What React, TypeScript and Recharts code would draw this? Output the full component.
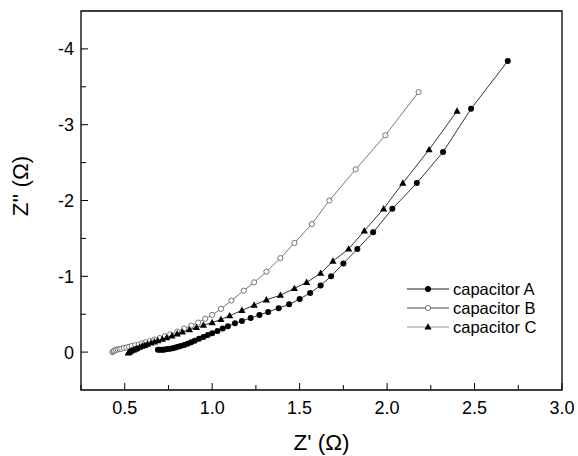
import React from 'react';
import { ScatterChart, Scatter, XAxis, YAxis, ReferenceArea, Label } from 'recharts';

// Nyquist data: Z' (ohm) and Z'' (ohm)
const capAZre = [0.69, 0.70, 0.71, 0.72, 0.73, 0.745, 0.76, 0.775, 0.79, 0.805, 0.82, 0.84, 0.86, 0.88, 0.90, 0.925, 0.95, 0.975, 1.00, 1.03, 1.06, 1.09, 1.13, 1.17, 1.22, 1.27, 1.32, 1.38, 1.44, 1.50, 1.56, 1.62, 1.68, 1.75, 1.83, 1.92, 2.03, 2.17, 2.32, 2.48, 2.69];
const capAZim = [-0.03, -0.03, -0.03, -0.03, -0.035, -0.04, -0.045, -0.05, -0.06, -0.07, -0.08, -0.095, -0.11, -0.13, -0.15, -0.175, -0.20, -0.225, -0.25, -0.28, -0.31, -0.34, -0.38, -0.41, -0.45, -0.49, -0.53, -0.58, -0.63, -0.70, -0.78, -0.88, -1.00, -1.17, -1.36, -1.58, -1.89, -2.23, -2.64, -3.21, -3.84];

const capBZre = [0.43, 0.435, 0.44, 0.45, 0.46, 0.47, 0.48, 0.495, 0.51, 0.525, 0.54, 0.56, 0.58, 0.60, 0.62, 0.645, 0.67, 0.70, 0.73, 0.76, 0.80, 0.84, 0.88, 0.92, 0.96, 1.00, 1.05, 1.11, 1.18, 1.24, 1.31, 1.39, 1.47, 1.57, 1.67, 1.82, 1.99, 2.18];
const capBZim = [0.0, -0.01, -0.02, -0.03, -0.035, -0.04, -0.045, -0.055, -0.06, -0.07, -0.08, -0.09, -0.10, -0.115, -0.13, -0.145, -0.165, -0.185, -0.21, -0.235, -0.27, -0.31, -0.35, -0.39, -0.44, -0.49, -0.57, -0.68, -0.81, -0.92, -1.06, -1.24, -1.44, -1.69, -2.00, -2.41, -2.86, -3.43];

const capCZre = [0.52, 0.525, 0.53, 0.54, 0.55, 0.56, 0.57, 0.585, 0.60, 0.615, 0.63, 0.65, 0.67, 0.69, 0.715, 0.74, 0.77, 0.80, 0.83, 0.87, 0.91, 0.95, 1.00, 1.05, 1.10, 1.17, 1.24, 1.31, 1.39, 1.47, 1.54, 1.62, 1.69, 1.78, 1.87, 1.98, 2.09, 2.24, 2.40];
const capCZim = [0.01, 0.0, -0.01, -0.02, -0.03, -0.04, -0.05, -0.065, -0.08, -0.09, -0.105, -0.12, -0.135, -0.15, -0.17, -0.19, -0.215, -0.24, -0.265, -0.295, -0.325, -0.355, -0.39, -0.43, -0.48, -0.55, -0.62, -0.69, -0.75, -0.84, -0.92, -1.04, -1.20, -1.36, -1.60, -1.89, -2.23, -2.67, -3.18];

const xTicks = [0.25, 0.5, 0.75, 1.0, 1.25, 1.5, 1.75, 2.0, 2.25, 2.5, 2.75, 3.0];
const xLabelTicks = [0.5, 1.0, 1.5, 2.0, 2.5, 3.0];
const yTicks = [-4, -3.5, -3, -2.5, -2, -1.5, -1, -0.5, 0];
const yLabelTicks = [-4, -3, -2, -1, 0];

const seriesNames = ['capacitor A', 'capacitor B', 'capacitor C'];

const toPoints = (xs: number[], ys: number[]) => xs.map((x, i) => ({ x, y: ys[i] }));

const dataA = toPoints(capAZre, capAZim);
const dataB = toPoints(capBZre, capBZim);
const dataC = toPoints(capCZre, capCZim);

const FONT = '"Liberation Sans", Arial, sans-serif';

const FilledDot = (props: any) => <circle cx={props.cx} cy={props.cy} r={3} fill="#000" />;
const OpenDot = (props: any) => (
  <circle cx={props.cx} cy={props.cy} r={2.6} fill="#fff" stroke="#555" strokeWidth={0.8} />
);
const Triangle = (props: any) => {
  const { cx, cy } = props;
  return <polygon points={`${cx},${cy - 3.8} ${cx - 3.6},${cy + 2.6} ${cx + 3.6},${cy + 2.6}`} fill="#000" />;
};

const XTick = (props: any) => {
  const { x, y, payload } = props;
  const major = xLabelTicks.includes(payload.value);
  return (
    <g>
      <line x1={x} x2={x} y1={y} y2={y - (major ? 7 : 5)} stroke="#000" strokeWidth={1} />
      {major && (
        <text x={x} y={y + 24} textAnchor="middle" fontSize={18} fontFamily={FONT} fill="#000">
          {payload.value.toFixed(1)}
        </text>
      )}
    </g>
  );
};

const YTick = (props: any) => {
  const { x, y, payload } = props;
  const major = yLabelTicks.includes(payload.value);
  return (
    <g>
      <line x1={x} x2={x + (major ? 7 : 5)} y1={y} y2={y} stroke="#000" strokeWidth={1} />
      {major && (
        <text x={x - 7} y={y} dy="0.36em" textAnchor="end" fontSize={18} fontFamily={FONT} fill="#000">
          {String(payload.value)}
        </text>
      )}
    </g>
  );
};

// legend drawn as an overlay so it does not take room from the plot
const LegendBox = () => {
  const markers = [
    <circle cx={21} cy={0} r={3} fill="#000" />,
    <circle cx={21} cy={0} r={2.6} fill="#fff" stroke="#555" strokeWidth={0.8} />,
    <polygon points="21,-3.8 17.4,2.6 24.6,2.6" fill="#000" />,
  ];
  const lineColors = ['#000', '#333', '#888'];
  return (
    <svg width={160} height={64} style={{ position: 'absolute', left: 407, top: 277 }}>
      {seriesNames.map((name, i) => (
        <g key={name} transform={`translate(0, ${12 + i * 19})`}>
          <line x1={0} x2={42} y1={0} y2={0} stroke={lineColors[i]} strokeWidth={0.9} />
          {markers[i]}
          <text x={46} y={0} dy="0.36em" fontSize={16.5} fontFamily={FONT} fill="#000">
            {name}
          </text>
        </g>
      ))}
    </svg>
  );
};

export default function App() {
  return (
    <div style={{ position: 'absolute', left: 0, top: 0, width: 578, height: 456, background: '#fff' }}>
      <ScatterChart width={578} height={456} margin={{ top: 11, right: 16, bottom: 0, left: 0 }}>
        <XAxis
          type="number"
          dataKey="x"
          domain={[0.25, 3.0]}
          ticks={xTicks}
          allowDataOverflow
          axisLine={false}
          tickLine={false}
          tickSize={0}
          tickMargin={0}
          tick={<XTick />}
          height={66}
          interval={0}
        >
          <Label
            content={(p: any) => (
              <text
                x={p.viewBox.x + p.viewBox.width / 2}
                y={p.viewBox.y + 60}
                textAnchor="middle"
                fontSize={22.5}
                fontFamily={FONT}
                fill="#000"
              >
                Z' (Ω)
              </text>
            )}
          />
        </XAxis>
        <YAxis
          type="number"
          dataKey="y"
          domain={[-4.5, 0.5]}
          reversed
          ticks={yTicks}
          allowDataOverflow
          axisLine={false}
          tickLine={false}
          tickSize={0}
          tickMargin={0}
          tick={<YTick />}
          width={81}
          interval={0}
        >
          <Label
            content={() => (
              <text
                x={20}
                y={186}
                transform="rotate(-90 20 186)"
                textAnchor="middle"
                dominantBaseline="central"
                fontSize={22.5}
                fontFamily={FONT}
                fill="#000"
              >
                Z'' (Ω)
              </text>
            )}
          />
        </YAxis>
        <ReferenceArea x1={0.25} x2={3.0} y1={-4.5} y2={0.5} fill="none" stroke="#000" strokeWidth={1.3} />
        <Scatter
          name={seriesNames[0]}
          data={dataA}
          line={{ stroke: '#000', strokeWidth: 0.8 }}
          shape={<FilledDot />}
          isAnimationActive={false}
        />
        <Scatter
          name={seriesNames[1]}
          data={dataB}
          line={{ stroke: '#555', strokeWidth: 0.8 }}
          shape={<OpenDot />}
          isAnimationActive={false}
        />
        <Scatter
          name={seriesNames[2]}
          data={dataC}
          line={{ stroke: '#000', strokeWidth: 0.8 }}
          shape={<Triangle />}
          isAnimationActive={false}
        />
      </ScatterChart>
      <LegendBox />
    </div>
  );
}
